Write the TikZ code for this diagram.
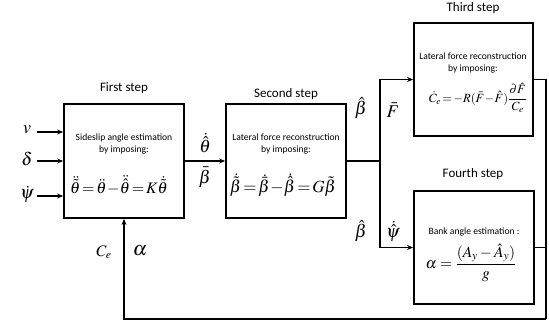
\documentclass[tikz,border=0pt]{standalone}
\usepackage{amsmath}
\usepackage{mathptmx}
\usepackage[no-math]{fontspec}
\setmainfont{Carlito}
\usetikzlibrary{arrows.meta}
\tikzset{
  box/.style={draw, line width=1.8pt, inner sep=0pt},
  ln/.style={line width=1.8pt},
  arr/.style={line width=1.8pt, -{Stealth[length=6pt,width=5pt]}},
  title/.style={font=\fontsize{13}{15}\selectfont, inner sep=0pt},
  small/.style={font=\fontsize{9.6}{12.5}\selectfont, align=center, inner sep=0pt},
  eq/.style={font=\fontsize{17}{19}\selectfont, inner sep=0pt},
  lab/.style={font=\fontsize{18}{20}\selectfont, inner sep=0pt}
}
\begin{document}
\begin{tikzpicture}[x=1pt,y=-1pt]
\useasboundingbox (0,0) rectangle (549,328);
% boxes
\node[box, minimum width=120pt, minimum height=114pt] (b1) at (124,161) {};
\node[box, minimum width=120pt, minimum height=114pt] (b2) at (286,161) {};
\node[box, minimum width=119pt, minimum height=113pt] (b3) at (473.5,79.5) {};
\node[box, minimum width=120pt, minimum height=113pt] (b4) at (474,247.5) {};
% titles
\node[title] (t1) at (124,88) {First step};
\node[title] (t2) at (286,94) {Second step};
\node[title] (t3) at (473,8) {Third step};
\node[title] (t4) at (473,174) {Fourth step};
% box contents
\node[small] (s1) at (124,144) {Sideslip angle estimation\\by imposing:};
\node[eq, font=\fontsize{16}{18}\selectfont] (e1) at (119,185) {$\ddot{\tilde\theta}\!=\!\ddot\theta\!-\!\ddot{\hat\theta}\!=\!K\dot{\tilde\theta}$};
\node[small] (s2) at (286,144) {Lateral force reconstruction\\by imposing:};
\node[eq] (e2) at (283,185) {$\dot{\tilde\beta}\!=\!\dot{\bar\beta}\!-\!\dot{\hat\beta}\!=\!G\tilde\beta$};
\node[small] (s3) at (473,63) {Lateral force reconstruction\\by imposing:};
\node[eq, font=\fontsize{12.5}{15}\selectfont] (e3) at (478,98) {$\dot C_{e}\!=\!-R(\bar F\!-\!\hat F)\dfrac{\partial\hat F}{C_{e}}$};
\node[small] (s4) at (474,232) {Bank angle estimation :};
\node[eq, font=\fontsize{15.5}{17}\selectfont] (e4) at (471,263) {$\alpha=\dfrac{(A_{y}-\hat A_{y})}{g}$};
% inputs
\node[lab] (v) at (27,130) {$v$};
\node[lab] (d) at (27,159) {$\delta$};
\node[lab] (p) at (27,194) {$\dot\psi$};
\coordinate (vin) at (37,132);
\coordinate (din) at (37,161);
\coordinate (pin) at (37,196);
\draw[arr] (vin) -- (vin -| b1.west);
\draw[arr] (din) -- (din -| b1.west);
\draw[arr] (pin) -- (pin -| b1.west);
% step 1 -> step 2
\draw[arr] (b1.east) -- (b2.west);
\node[lab] (l1) at (205,143) {$\dot{\hat\theta}$};
\node[lab] (l2) at (205,177) {$\bar\beta$};
% split
\coordinate (split) at (380,161);
\draw[ln] (b2.east) -- (split);
\draw[arr] (split) |- (b3.west);
\draw[arr] (split) |- (b4.west);
\node[lab] (l3) at (361,108) {$\hat\beta$};
\node[lab] (l4) at (393,110) {$\bar F$};
\node[lab] (l5) at (361,231) {$\hat\beta$};
\node[lab] (l6) at (393,231) {$\dot{\hat\psi}$};
% feedback
\coordinate (rt) at (546,319);
\draw[ln] (b3.east) -| (rt);
\draw[ln] (b4.east) -- (b4.east -| rt);
\draw[arr] (rt) -| (b1.south);
\node[lab, font=\fontsize{16}{18}\selectfont] (l7) at (104,252) {$C_{e}$};
\node[lab, font=\fontsize{20}{20}\selectfont] (l8) at (140,251) {$\alpha$};
\end{tikzpicture}
\end{document}
